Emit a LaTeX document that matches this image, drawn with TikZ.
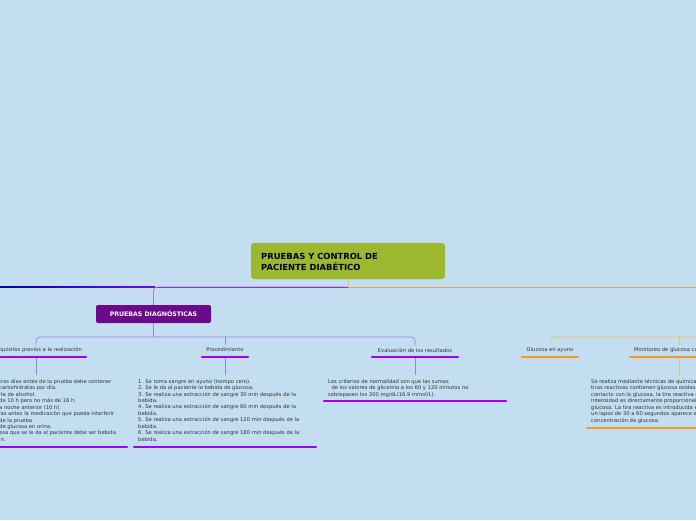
\documentclass[tikz,border=0pt]{standalone}
\usepackage{fontspec}
\setmainfont{DejaVu Sans}
\definecolor{bg}{HTML}{C3DEF0}
\definecolor{root}{HTML}{9CB82E}
\definecolor{pd}{HTML}{6A0A8A}
\definecolor{pu}{HTML}{A000F8}
\definecolor{pul}{HTML}{A87AE6}
\definecolor{org}{HTML}{F0A030}
\definecolor{orgl}{HTML}{F2BC6A}
\definecolor{txt}{HTML}{333333}
\tikzset{
 lbl/.style={font=\fontsize{5.2}{6.4}\selectfont, text=txt, inner sep=0pt},
 body/.style={font=\fontsize{5.2}{6.45}\selectfont, text=txt, inner sep=0pt, align=left, anchor=north west},
 ulp/.style={pu, line width=2.6pt, line cap=round},
 ulo/.style={org!80!orange, line width=2.6pt, line cap=round},
 cp/.style={pul, line width=0.7pt, rounded corners=4pt},
 co/.style={orgl, line width=0.7pt, rounded corners=4pt}
}
\begin{document}
\begin{tikzpicture}[x=1pt,y=-1pt]
\fill[bg] (0,0) rectangle (696,520);
\useasboundingbox (0,0) rectangle (696,520);
\clip (0,0) rectangle (696,520);
% root
\node[fill=root, rounded corners=3pt, minimum width=194pt, minimum height=36pt, inner sep=0pt] (root) at (348,261) {};
\node[anchor=west, font=\bfseries\fontsize{8.4}{11}\selectfont, align=left, inner sep=0pt] (roott) at (261,262) {PRUEBAS Y CONTROL DE\\PACIENTE DIABÉTICO};
% main line
\coordinate (rb) at (348,279);
\coordinate (rj) at (348,287);
\shade[left color=blue!70!black, right color=pu!80!blue] (0,286.7) rectangle (155,287.3);
\draw[pu!80!blue, line width=0.7pt] (155,287) -- (rj);
\draw[org, line width=0.9pt] (rj) -- (696,287);
\draw[orgl, line width=0.7pt] (rb) -- (rj);
% pruebas diagnosticas
\node[fill=pd, rounded corners=2pt, minimum width=115pt, minimum height=18pt, inner sep=0pt, text=white, font=\bfseries\fontsize{6.2}{7}\selectfont] (pd) at (153.5,314) {PRUEBAS DIAGNÓSTICAS};
\draw[cp] (rj) -- (153.5,287) -- (pd.north);
\coordinate (pj) at (153.5,337);
\draw[pul, line width=0.7pt] (pd.south) -- (pj);
% children labels
\node[lbl, anchor=east] (c1) at (82,350) {Requisitos previos a la realización};
\node[lbl] (c2) at (225,350) {Procedimiento};
\node[lbl] (c3) at (415,350) {Evaluación de los resultados};
\node[lbl] (c4) at (550,350) {Glucosa en ayuno};
\node[lbl, anchor=west] (c5) at (634,350) {Monitoreo de glucosa capilar};
\draw[cp] (36,345) -- (36,337) -- (415,337) -- (415,345);
\draw[cp] (225,337) -- (225,345);
\draw[co] (551,345) -- (551,337) -- (696,337);
\draw[co] (679,337) -- (679,345);
% underlines
\draw[ulp] (-20,357) -- (86,357);
\draw[ulp] (202,357) -- (248,357);
\draw[ulp] (372,357) -- (458,357);
\draw[ulo] (522,357) -- (578,357);
\draw[ulo] (630,357) -- (700,357);
% drops
\draw[pul, line width=0.7pt] (36,358) -- (36,375);
\draw[pul, line width=0.7pt] (225,358) -- (225,375);
\draw[pul, line width=0.7pt] (415,358) -- (415,375);
\draw[orgl, line width=0.7pt] (679,358) -- (679,375);
% bodies
\node[body] (b1) at (-1,379) {tres días antes de la prueba debe contener\\ carbohidratos por día.\\ita de alcohol.\\de 10 h pero no más de 16 h.\\a noche anterior (10 h).\\ías antes la medicación que pueda interferir\\ de la prueba\\ de glucosa en orina.\\esa que se le da al paciente debe ser bebida\\in.};
\node[body] (b2) at (138,379) {1. Se toma sangre en ayuno (tiempo cero).\\2. Se le da al paciente la bebida de glucosa.\\3. Se realiza una extracción de sangre 30 min después de la\\bebida.\\4. Se realiza una extracción de sangre 60 min después de la\\bebida.\\5. Se realiza una extracción de sangre 120 min después de la\\bebida.\\6. Se realiza una extracción de sangre 180 min después de la\\bebida.};
\node[body] (b3) at (328,379) {Los criterios de normalidad son que las sumas\\\ \ de los valores de glicemia a los 60 y 120 minutos no\\sobrepasen los 300 mg/dL(16.9 mmol/L).};
\node[body] (b5) at (591,379) {Se realiza mediante técnicas de química seca; las\\tiras reactivas contienen glucosa oxidasa y al entrar en\\contacto con la glucosa, la tira reactiva cambia de color; su\\intensidad es directamente proporcional a la cantidad de\\glucosa. La tira reactiva es introducida en el glucómetro y en\\un lapso de 30 a 60 segundos aparece en la pantalla la\\concentración de glucosa.};
\draw[ulp] (-20,447) -- (127,447);
\draw[ulp] (134,447) -- (316,447);
\draw[ulp] (324,401) -- (506,401);
\draw[ulo] (587,428) -- (700,428);
\end{tikzpicture}
\end{document}
